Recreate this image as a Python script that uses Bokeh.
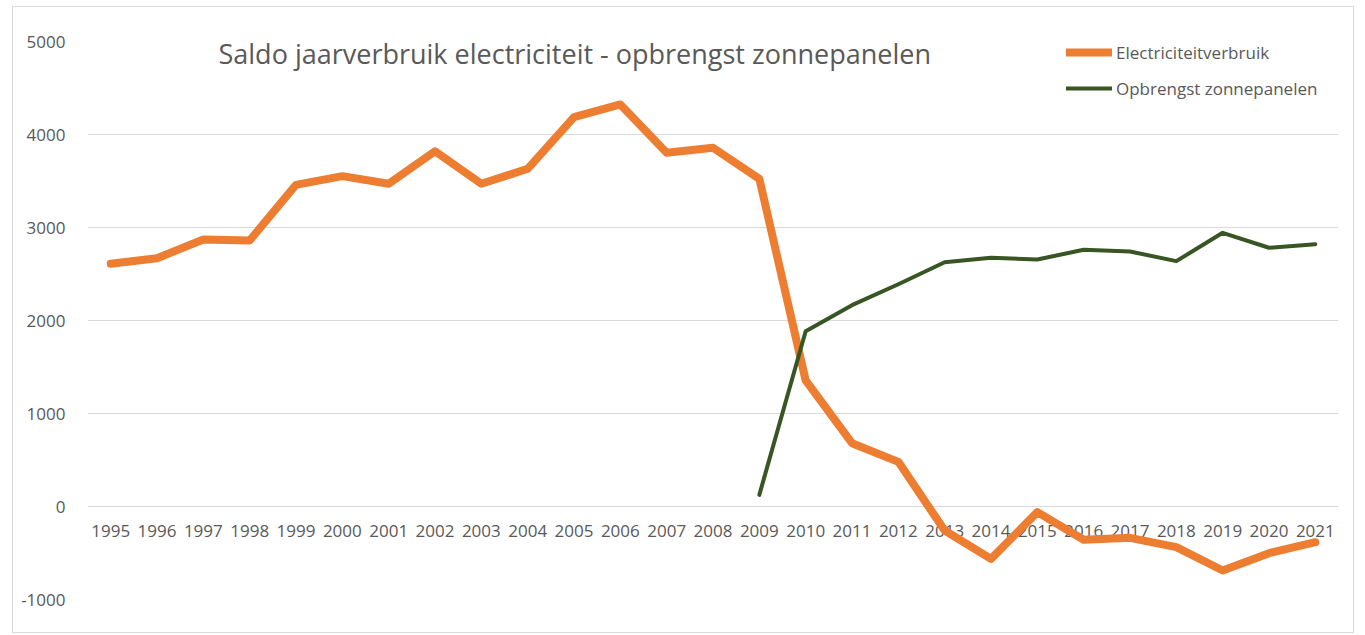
from bokeh.plotting import figure
from bokeh.models import (FactorRange, Range1d, FixedTicker, Label, Legend, LegendItem,
                          ColumnDataSource, PrintfTickFormatter)
from bokeh.core.properties import value
from bokeh.embed import file_html
from bokeh.resources import INLINE

years = [str(y) for y in range(1995, 2022)]
verbruik = [2610, 2670, 2871, 2860, 3459, 3552, 3470, 3820, 3470, 3631,
            4186, 4323, 3803, 3857, 3523, 1355, 681, 480, -258, -563,
            -61, -358, -337, -437, -688, -502, -384]
zon_years = [str(y) for y in range(2009, 2022)]
zonnepanelen = [125, 1885, 2165, 2390, 2627, 2674, 2656, 2760, 2742, 2638, 2943, 2782, 2821]
y_ticks = [-1000, 0, 1000, 2000, 3000, 4000, 5000]
title_text = "Saldo jaarverbruik electriciteit - opbrengst zonnepanelen"
series_names = ["Electriciteitverbruik", "Opbrengst zonnepanelen"]

FONT = "Open Sans"
GRAY = "#595959"
ORANGE = "#ED7D31"
GREEN = "#375623"

p = figure(width=1342, height=627, output_backend="svg", toolbar_location=None,
           x_range=FactorRange(*years, range_padding=0), y_range=Range1d(-1000, 5000),
           min_border_left=74, min_border_right=17, min_border_top=34, min_border_bottom=35)
p.styles = {"border": "1px solid #d9d9d9", "margin-left": "12px", "margin-top": "6px"}
p.outline_line_color = None
p.xaxis.visible = False
p.xgrid.visible = False
p.ygrid.grid_line_color = "#d9d9d9"
p.ygrid.grid_line_width = 1
p.yaxis.ticker = FixedTicker(ticks=y_ticks)
p.yaxis.formatter = PrintfTickFormatter(format="%d")
p.yaxis.axis_line_color = None
p.yaxis.major_tick_line_color = None
p.yaxis.minor_tick_line_color = None
p.yaxis.major_label_standoff = 16
p.yaxis.major_label_text_font = FONT
p.yaxis.major_label_text_font_size = "17px"
p.yaxis.major_label_text_color = GRAY

lab_src = ColumnDataSource(dict(x=years, y=[0] * len(years), t=years))
p.text(x="x", y="y", text="t", source=lab_src, y_offset=24, text_align="center",
       text_baseline="middle", text_font=value(FONT), text_font_size="17px", text_color=GRAY)

r1 = p.line(years, verbruik, line_color=ORANGE, line_width=8, line_join="round", line_cap="round")
r2 = p.line(zon_years, zonnepanelen, line_color=GREEN, line_width=4, line_join="round", line_cap="round")

p.add_layout(Label(x=131, y=546, x_units="screen", y_units="screen", text=title_text,
                   text_font=FONT, text_font_size="27px", text_color=GRAY,
                   text_baseline="alphabetic"))

legend = Legend(items=[LegendItem(label=series_names[0], renderers=[r1]),
                       LegendItem(label=series_names[1], renderers=[r2])],
                location=(979, 499), orientation="vertical", glyph_width=46, glyph_height=24,
                label_height=24, label_standoff=4, spacing=12, padding=0, margin=0,
                border_line_color=None, background_fill_alpha=0,
                label_text_font=FONT, label_text_font_size="17px", label_text_color=GRAY)
p.add_layout(legend, "center")

open("out.html", "w").write(file_html(p, INLINE))
